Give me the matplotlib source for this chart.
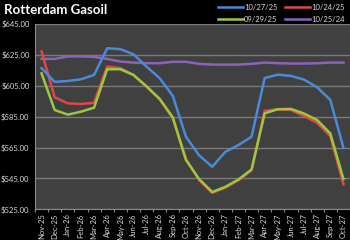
import numpy as np
from matplotlib import pyplot as plt
from matplotlib.ticker import FixedLocator

##Donnees

mois = ['Nov-25', 'Dec-25', 'Jan-26', 'Feb-26', 'Mar-26', 'Apr-26', 'May-26', 'Jun-26',
        'Jul-26', 'Aug-26', 'Sep-26', 'Oct-26', 'Nov-26', 'Dec-26', 'Jan-27', 'Feb-27',
        'Mar-27', 'Apr-27', 'May-27', 'Jun-27', 'Jul-27', 'Aug-27', 'Sep-27', 'Oct-27']

c_102725 = [616.4, 607.5, 608.1, 609.2, 612.0, 629.3, 628.7, 625.4, 617.4, 609.9, 598.4, 572.0,
            560.0, 552.5, 562.2, 566.6, 572.0, 610.0, 612.2, 611.4, 609.0, 604.0, 595.8, 564.8]
c_102425 = [627.2, 597.5, 593.6, 593.2, 594.0, 617.4, 616.4, 612.0, 604.4, 596.2, 584.0, 557.5,
            544.0, 535.6, 539.0, 543.8, 550.2, 588.8, 589.7, 589.3, 585.4, 581.0, 572.4, 541.2]
c_092925 = [613.0, 589.3, 586.3, 588.2, 590.8, 615.7, 615.7, 612.0, 604.6, 596.5, 584.5, 557.0,
            544.6, 536.2, 539.5, 544.3, 550.8, 587.1, 589.8, 590.0, 587.0, 582.8, 574.1, 544.6]
c_102524 = [622.4, 622.4, 624.0, 624.0, 623.7, 622.4, 620.7, 620.0, 619.6, 619.6, 620.5, 620.5,
            619.2, 618.7, 618.7, 618.7, 619.2, 620.0, 619.6, 619.4, 619.4, 619.6, 620.0, 620.0]

y_ticks = [525, 545, 565, 585, 605, 625, 645]

##Figure

plt.rcParams['font.family'] = ['Lato', 'DejaVu Sans']

fig = plt.figure(figsize=(3.5, 2.4), dpi=100, facecolor='black')
ax = fig.add_axes([0.1, 0.128, 0.9, 0.772])
ax.set_facecolor('#404040')

x = np.arange(len(mois))
l4, = ax.plot(x, c_102524, color='#8a64b8', lw=1.8, label='10/25/24')
l2, = ax.plot(x, c_102425, color='#e04848', lw=1.8, label='10/24/25')
l3, = ax.plot(x, c_092925, color='#9bc840', lw=1.8, label='09/29/25')
l1, = ax.plot(x, c_102725, color='#4a8ad8', lw=1.8, label='10/27/25')

ax.set_xlim(-0.5, len(mois) - 0.5)
ax.set_ylim(525, 645)
ax.set_yticks(y_ticks)
ax.set_yticklabels(['${:.2f}'.format(v) for v in y_ticks], color='#d8d8d8', fontsize=5.5)
ax.yaxis.grid(True, color='#7a7a7a', lw=1)
ax.set_axisbelow(True)
ax.tick_params(axis='y', length=0, pad=4)

ax.set_xticks(x)
ax.set_xticklabels(mois, rotation=90, color='#d8d8d8', fontsize=5.5)
ax.tick_params(axis='x', which='major', length=0, pad=3)
ax.xaxis.set_minor_locator(FixedLocator(np.arange(-0.5, len(mois), 1)))
ax.tick_params(axis='x', which='minor', length=2.5, color='#8a8a8a', width=0.8)

for s in ['top', 'right']:
    ax.spines[s].set_visible(False)
ax.spines['left'].set_color('#8a8a8a')
ax.spines['bottom'].set_color('#8a8a8a')

fig.text(0.01, 0.94, 'Rotterdam Gasoil', color='white', fontsize=9.5, fontweight='bold', va='baseline')

leg = fig.legend(handles=[l1, l3, l2, l4], ncol=2, loc='upper right', bbox_to_anchor=(1.0, 1.005),
                 frameon=False, fontsize=5.5, handlelength=3.2, handletextpad=0.2,
                 columnspacing=1.0, labelspacing=0.6, borderaxespad=0.3)
for t in leg.get_texts():
    t.set_color('#d8d8d8')

plt.savefig('out.png', dpi=100, facecolor='black')
